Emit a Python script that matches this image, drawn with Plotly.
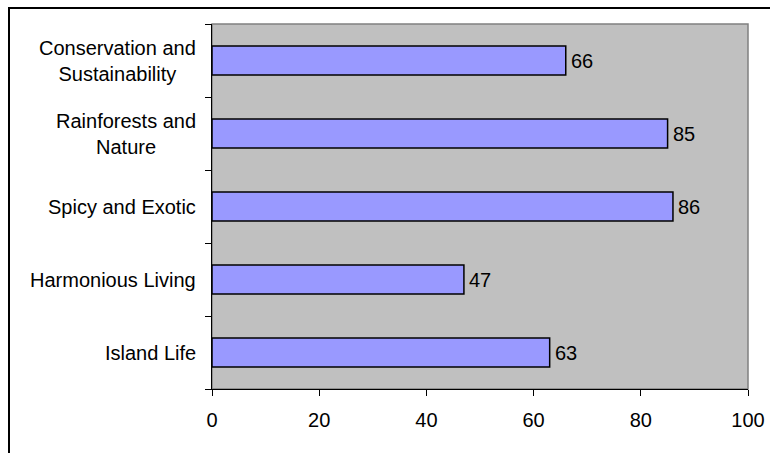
import plotly.graph_objects as go

# Survey scores per theme, listed top to bottom
categories = [
    "Conservation and<br>Sustainability",
    "Rainforests and<br>Nature",
    "Spicy and Exotic",
    "Harmonious Living",
    "Island Life",
]
scores = [66, 85, 86, 47, 63]
x_ticks = [0, 20, 40, 60, 80, 100]

W, H = 770, 453
L, R, T, B = 212, 22, 24, 64
pw, ph = W - L - R, H - T - B

def px_x(p):
    return (p - L) / pw

def px_y(p):
    return (H - B - p) / ph

font = dict(family="Liberation Sans, Arial, sans-serif", size=20, color="black")

fig = go.Figure(
    go.Bar(
        y=categories,
        x=scores,
        orientation="h",
        width=0.4,
        marker=dict(color="#9999FF", line=dict(color="black", width=1.5)),
    )
)

# Category labels: right-aligned block, lines centred
annotations = [
    dict(
        x=px_x(198), xref="paper", y=c, yref="y",
        text=c, showarrow=False, xanchor="right", yanchor="middle",
        align="center", font=font,
    )
    for c in categories
]
# Value labels just past the end of each bar
annotations += [
    dict(
        x=v, xref="x", y=c, yref="y", text=str(v), showarrow=False,
        xanchor="left", yanchor="middle", xshift=3, font=font,
    )
    for c, v in zip(categories, scores)
]

shapes = [
    # grey frame of the plotting area
    dict(type="rect", xref="paper", yref="paper", x0=0, x1=1, y0=0, y1=1,
         line=dict(color="#808080", width=1.5), fillcolor="#C0C0C0", layer="below"),
    # outer chart border (left and top edges)
    dict(type="line", xref="paper", yref="paper", x0=px_x(9), x1=px_x(9),
         y0=px_y(470), y1=px_y(8), line=dict(color="black", width=2)),
    dict(type="line", xref="paper", yref="paper", x0=px_x(8), x1=px_x(790),
         y0=px_y(8), y1=px_y(8), line=dict(color="black", width=2)),
]

fig.update_layout(
    width=W, height=H,
    margin=dict(l=L, r=R, t=T, b=B, pad=0, autoexpand=False),
    paper_bgcolor="white",
    plot_bgcolor="#C0C0C0",
    showlegend=False,
    font=font,
    annotations=annotations,
    shapes=shapes,
    xaxis=dict(
        range=[0, 100], tickvals=x_ticks, showgrid=False, zeroline=False,
        showline=True, linecolor="black", linewidth=1, automargin=False,
        ticks="outside", ticklen=6, tickcolor="black", tickfont=font,
        ticklabelstandoff=7,
    ),
    yaxis=dict(
        type="category", categoryorder="array", categoryarray=categories[::-1],
        showticklabels=False, showgrid=False, zeroline=False, automargin=False,
        showline=True, linecolor="black", linewidth=1,
        ticks="outside", ticklen=6, tickcolor="black", tickson="boundaries",
        range=[-0.5, len(categories) - 0.5],
    ),
)

fig.write_html("out.html")
